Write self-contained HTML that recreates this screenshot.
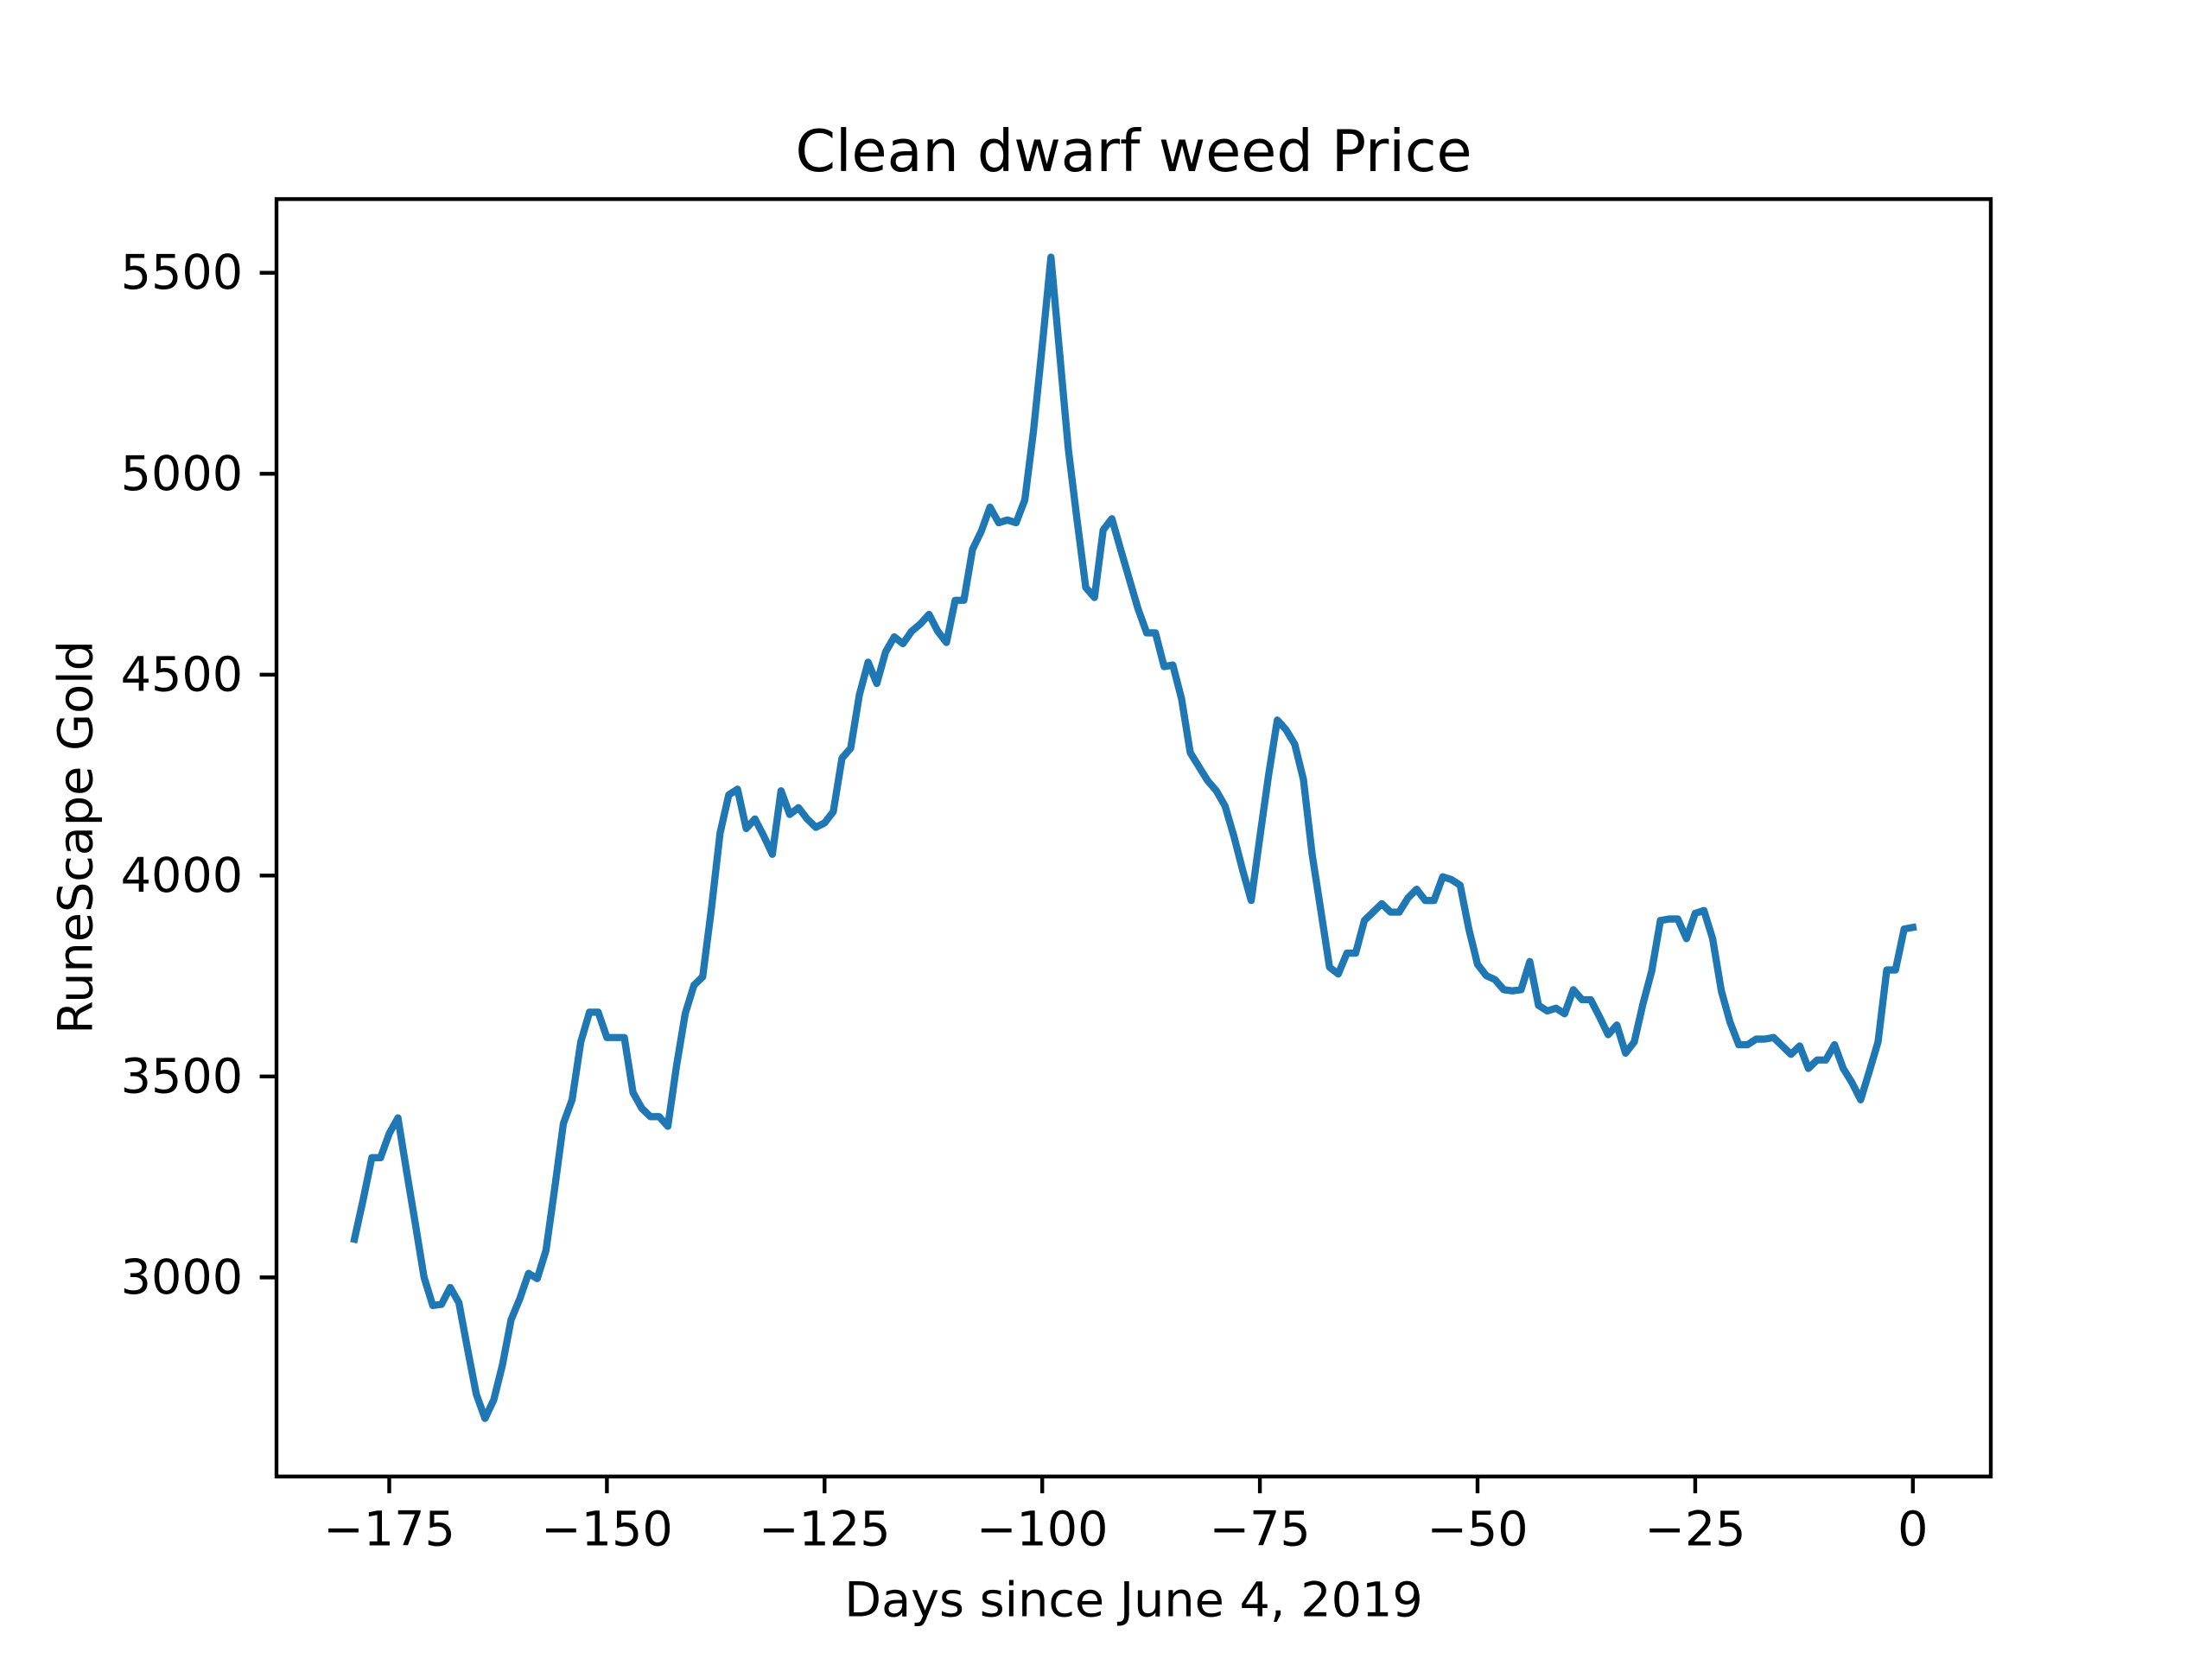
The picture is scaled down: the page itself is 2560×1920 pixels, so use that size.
<!DOCTYPE html>
<html><head><meta charset="utf-8"><style>
html,body{margin:0;padding:0;background:#fff;}
svg{display:block;font-family:"DejaVu Sans","Liberation Sans",sans-serif;}
</style></head><body>
<svg id="chart" width="2560" height="1920" viewBox="0 0 2560 1920" xmlns="http://www.w3.org/2000/svg">
<rect width="2560" height="1920" fill="#fff"/>
<g id="plot"></g>
<text x="1312" y="175" font-size="66.7" text-anchor="middle" dominant-baseline="central">Clean dwarf weed Price</text>
<text x="1312" y="1852" font-size="55.6" text-anchor="middle" dominant-baseline="central">Days since June 4, 2019</text>
<text x="88" y="969" font-size="55.6" text-anchor="middle" dominant-baseline="central" transform="rotate(-90 88 969)">RuneScape Gold</text>
</svg>
<script>
const days = [];
for (let d = -179; d <= 0; d++) days.push(d);
const prices = [3095,3193,3298,3298,3358,3397,3263,3133,3000,2930,2933,2975,2937,2821,2709,2649,2695,2782,2895,2947,3010,2997,3067,3221,3383,3442,3586,3660,3660,3597,3597,3597,3460,3421,3400,3400,3376,3527,3657,3727,3748,3917,4106,4201,4215,4117,4141,4099,4053,4211,4152,4169,4141,4120,4131,4159,4292,4317,4450,4531,4478,4556,4594,4577,4608,4626,4650,4608,4580,4685,4685,4812,4857,4917,4878,4885,4878,4935,5107,5318,5539,5300,5061,4885,4717,4692,4860,4888,4812,4738,4664,4604,4604,4520,4524,4440,4306,4271,4236,4211,4173,4099,4015,3938,4096,4250,4387,4363,4327,4239,4053,3913,3772,3755,3807,3807,3888,3909,3930,3909,3909,3944,3966,3938,3938,3997,3990,3976,3867,3779,3751,3741,3716,3713,3716,3786,3677,3663,3670,3656,3716,3691,3691,3649,3604,3628,3558,3586,3681,3762,3888,3892,3892,3843,3906,3913,3843,3713,3635,3579,3579,3593,3593,3597,3576,3555,3576,3520,3541,3541,3579,3520,3485,3442,3513,3586,3765,3765,3867,3871];
const xTicks = [-175,-150,-125,-100,-75,-50,-25,0];
const yTicks = [3000,3500,4000,4500,5000,5500];

const L=320,R=2304,T=230.4,B=1708.8;
const NS="http://www.w3.org/2000/svg";
const xmin0=Math.min(...days),xmax0=Math.max(...days);
const ymin0=Math.min(...prices),ymax0=Math.max(...prices);
const xm=(xmax0-xmin0)*0.05,ym=(ymax0-ymin0)*0.05;
const x0=xmin0-xm,x1=xmax0+xm,y0=ymin0-ym,y1=ymax0+ym;
const sx=v=>L+(v-x0)/(x1-x0)*(R-L);
const sy=v=>B-(v-y0)/(y1-y0)*(B-T);
const g=document.getElementById('plot');
function mk(tag,attrs){const e=document.createElementNS(NS,tag);for(const k in attrs)e.setAttribute(k,attrs[k]);g.appendChild(e);return e;}

let d='';
days.forEach((v,i)=>{d+=(i?'L':'M')+sx(v).toFixed(2)+' '+sy(prices[i]).toFixed(2);});
const line=mk('path',{d:d,fill:'none',stroke:'#1f77b4','stroke-width':8.33,'stroke-linejoin':'round','stroke-linecap':'square'});



xTicks.forEach(t=>{
  const x=sx(t);
  const tk=mk('line',{x1:x,x2:x,y1:B,y2:B+19.4,stroke:'#000','stroke-width':4.4});
  
  
  const tx=mk('text',{x:x,y:1770,'font-size':55.6,'text-anchor':'middle','dominant-baseline':'central'});
  tx.textContent=(t<0?'\u2212'+Math.abs(t):String(t));
  
  
});
yTicks.forEach(t=>{
  const y=sy(t);
  const tk=mk('line',{x1:L-19.4,x2:L,y1:y,y2:y,stroke:'#000','stroke-width':4.4});
  
  
  const tx=mk('text',{x:L-38.9,y:y,'font-size':55.6,'text-anchor':'end','dominant-baseline':'central'});
  tx.textContent=String(t);
  
  
});
const fr=mk('rect',{x:L,y:T,width:R-L,height:B-T,fill:'none',stroke:'#000','stroke-width':4.4});


</script>
</body></html>
